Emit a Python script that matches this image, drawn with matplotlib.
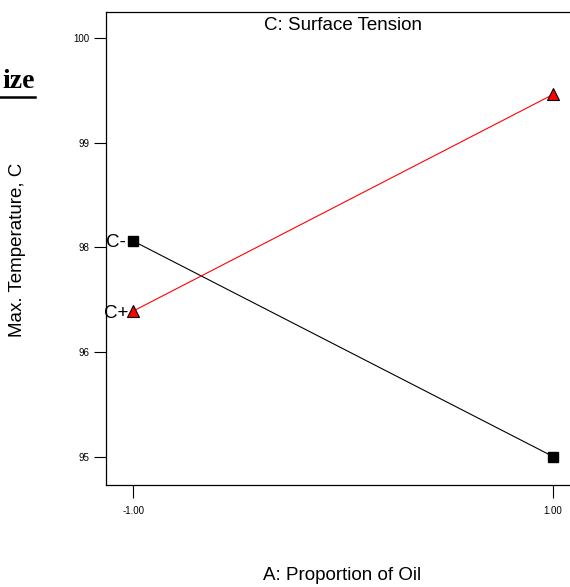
import matplotlib.pyplot as plt
from matplotlib.lines import Line2D

plt.rcParams['font.family'] = ['Liberation Sans', 'DejaVu Sans']

# factor A levels
a_levels = [-1.0, 1.0]
# response for C- and C+ (surface tension)
c_minus = [98.06, 96.0]
c_plus = [97.39, 99.46]

# y tick positions and the labels printed on the original chart
ytick_pos = [96, 97, 98, 99, 100]
ytick_labels = ['95', '96', '98', '99', '100']
xtick_pos = [-1.0, 1.0]
xtick_labels = ['-1.00', '1.00']

fig = plt.figure(figsize=(5.7, 5.87), dpi=100)
ax = fig.add_axes([0.186, 0.174, 0.832, 0.806])

ax.plot(a_levels, c_minus, color='black', lw=0.8, marker='s', ms=6.5,
        mfc='black', mec='black')
ax.plot(a_levels, c_plus, color='red', lw=0.8, marker='^', ms=8,
        mfc='red', mec='black', mew=0.8)

ax.text(a_levels[0] - 0.033, c_minus[0], 'C-', ha='right', va='center_baseline',
        fontsize=13.5)
ax.text(a_levels[0] - 0.022, c_plus[0], 'C+', ha='right', va='center_baseline',
        fontsize=13.5)

ax.set_xlim(-1.129, 1.129)
ax.set_ylim(95.73, 100.25)
ax.set_xticks(xtick_pos)
ax.set_xticklabels(xtick_labels)
ax.set_yticks(ytick_pos)
ax.set_yticklabels(ytick_labels)
ax.tick_params(direction='out', length=9, width=0.8, labelsize=7, pad=3)
ax.tick_params(axis='x', pad=6)
for s in ax.spines.values():
    s.set_linewidth(0.9)

ax.text(0.5, 0.988, 'C: Surface Tension', transform=ax.transAxes,
        ha='center', va='top', fontsize=13.5)

fig.text(342 / 570, 1 - 575 / 587, 'A: Proportion of Oil', ha='center',
         va='center', fontsize=13.5)
fig.text(18 / 570, 1 - 250 / 587, 'Max. Temperature, C', ha='center',
         va='center', rotation=90, fontsize=13.5)

# cropped heading on the left
fig.text(35 / 570, 1 - 82 / 587, 'ize', ha='right', va='center', fontsize=20,
         fontweight='bold', family='Liberation Serif')
fig.add_artist(Line2D([0, 35 / 570], [1 - 96.5 / 587, 1 - 96.5 / 587],
                      transform=fig.transFigure, color='black', lw=1.8))

plt.savefig('out.png', dpi=100)
plt.close()
